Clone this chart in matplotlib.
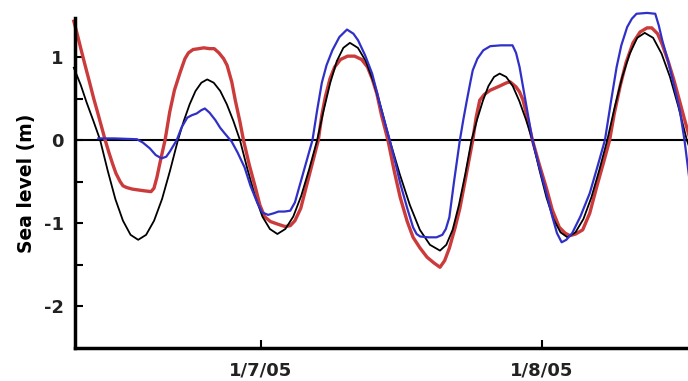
import matplotlib
matplotlib.use("Agg")
import matplotlib.pyplot as plt

# time in hours since 1/6/05 00:00, sea level in m
t_black = [8.0, 8.6, 9.1, 9.7, 10.25,
           10.9, 11.55, 12.2, 12.85, 13.5,
           14.18, 14.86, 15.54, 16.22, 16.9,
           17.4, 17.9, 18.4, 18.9, 19.4,
           19.96, 20.52, 21.08, 21.64, 22.2,
           22.84, 23.48, 24.12, 24.76, 25.4,
           26.08, 26.76, 27.44, 28.12, 28.8,
           29.36, 29.92, 30.48, 31.04, 31.6,
           32.28, 32.96, 33.64, 34.32, 35.0,
           35.86, 36.72, 37.58, 38.44, 39.3,
           39.84, 40.38, 40.92, 41.46, 42.0,
           42.48, 42.96, 43.44, 43.92, 44.4,
           44.96, 45.52, 46.08, 46.64, 47.2,
           47.8, 48.4, 49.0, 49.6, 50.2,
           50.88, 51.56, 52.24, 52.92, 53.6,
           54.24, 54.88, 55.52, 56.16, 56.8,
           57.52, 58.24, 58.96, 59.68, 60.4, 60.6]
h_black = [0.87, 0.66, 0.45, 0.22, 0.0,
           -0.37, -0.71, -0.97, -1.14, -1.2,
           -1.14, -0.97, -0.71, -0.37, 0.0,
           0.23, 0.43, 0.59, 0.69, 0.73,
           0.69, 0.59, 0.43, 0.23, 0.0,
           -0.35, -0.67, -0.92, -1.07, -1.13,
           -1.07, -0.92, -0.67, -0.35, 0.0,
           0.36, 0.69, 0.95, 1.11, 1.17,
           1.11, 0.95, 0.69, 0.36, 0.0,
           -0.41, -0.78, -1.08, -1.26, -1.33,
           -1.26, -1.08, -0.78, -0.41, 0.0,
           0.25, 0.47, 0.65, 0.76, 0.8,
           0.76, 0.65, 0.47, 0.25, 0.0,
           -0.36, -0.69, -0.95, -1.11, -1.17,
           -1.11, -0.95, -0.69, -0.36, 0.0,
           0.4, 0.76, 1.04, 1.23, 1.29,
           1.23, 1.04, 0.76, 0.4, 0.0, -0.08]

t_red = [8.0, 8.3, 8.6, 9.0, 9.3, 9.7, 10.0, 10.35, 10.68, 11.0, 11.3, 11.6,
         11.96, 12.2, 12.5, 13.0, 13.5, 14.0, 14.6, 14.85, 15.1, 15.4, 15.8,
         16.2, 16.6, 17.1, 17.5, 17.8, 18.2, 18.7, 19.1, 19.6, 20.0, 20.4,
         20.8, 21.1, 21.5, 21.8, 22.2, 22.5, 23.0, 23.5, 23.9, 24.3, 24.8,
         25.4, 26.05, 26.5, 26.9, 27.4, 27.8, 28.35, 28.9, 29.2, 29.5, 29.9,
         30.3, 30.8, 31.4, 32.0, 32.6, 33.1, 33.5, 33.9, 34.3, 34.85, 35.4,
         35.9, 36.5, 37.0, 37.6, 38.2, 38.8, 39.3, 39.7, 40.1, 40.6, 41.0,
         41.5, 42.1, 42.4, 42.7, 43.1, 43.6, 44.4, 45.0, 45.3, 45.8, 46.1,
         46.4, 46.8, 47.2, 47.8, 48.4, 48.9, 49.5, 50.0, 50.4, 50.9, 51.5,
         52.1, 52.7, 53.3, 53.8, 54.2, 54.7, 55.2, 55.8, 56.4, 57.0, 57.4,
         57.9, 58.3, 58.8, 59.3, 59.8, 60.2, 60.6]
h_red = [1.43, 1.27, 1.1, 0.88, 0.72, 0.5, 0.35, 0.17, 0.0, -0.15, -0.28, -0.4,
         -0.5, -0.55, -0.57, -0.59, -0.6, -0.61, -0.62, -0.58, -0.45, -0.25, 0.0,
         0.34, 0.6, 0.82, 0.98, 1.05, 1.09, 1.1, 1.11, 1.1, 1.1, 1.05,
         0.98, 0.9, 0.7, 0.48, 0.22, 0.0, -0.3, -0.56, -0.78, -0.92, -0.98,
         -1.01, -1.04, -1.03, -0.97, -0.82, -0.6, -0.3, 0.0, 0.3, 0.52, 0.74,
         0.88, 0.97, 1.01, 1.01, 0.97, 0.88, 0.74, 0.56, 0.3, 0.0, -0.38,
         -0.69, -0.98, -1.17, -1.3, -1.41, -1.48, -1.53, -1.45, -1.3, -1.05, -0.82,
         -0.45, 0.0, 0.28, 0.48, 0.55, 0.6, 0.65, 0.69, 0.7, 0.64, 0.58,
         0.48, 0.25, 0.0, -0.3, -0.58, -0.84, -1.05, -1.12, -1.15, -1.13, -1.08,
         -0.88, -0.56, -0.26, 0.0, 0.32, 0.65, 0.93, 1.17, 1.3, 1.35, 1.35,
         1.28, 1.15, 0.95, 0.72, 0.46, 0.25, 0.05]

t_blue = [10.1, 11.5, 13.4, 13.9, 14.5, 15.0, 15.5, 15.9, 16.2, 16.5, 16.8,
          17.2, 17.7, 18.1, 18.5, 18.9, 19.2, 19.6, 20.1, 20.5, 20.9, 21.2,
          21.5, 22.0, 22.6, 23.1, 23.7, 24.1, 24.6, 25.1, 25.5, 26.0, 26.5,
          26.9, 27.2, 27.8, 28.4, 28.8, 29.2, 29.6, 30.1, 30.7, 31.35, 31.9,
          32.3, 32.9, 33.5, 33.9, 34.3, 34.7, 35.0, 35.5, 35.9, 36.5, 37.0,
          37.3, 37.6, 38.3, 39.0, 39.5, 39.8, 40.1, 40.5, 41.0, 41.3, 41.6,
          41.9, 42.1, 42.5, 43.0, 43.6, 44.5, 45.5, 45.8, 46.1, 46.4, 46.8,
          47.2, 47.8, 48.4, 48.9, 49.3, 49.7, 50.1, 50.6, 51.3, 52.1, 52.8,
          53.4, 53.9, 54.4, 54.8, 55.3, 55.7, 56.1, 57.0, 57.7, 58.0, 58.3,
          58.8, 59.3, 59.8, 60.2, 60.6]
h_blue = [0.02, 0.02, 0.01, -0.03, -0.1, -0.18, -0.22, -0.2, -0.14, -0.07, 0.0,
          0.15, 0.27, 0.3, 0.32, 0.36, 0.38, 0.33, 0.24, 0.15, 0.08, 0.03,
          -0.02, -0.15, -0.33, -0.55, -0.76, -0.87, -0.9, -0.88, -0.86, -0.86, -0.85,
          -0.75, -0.6, -0.3, 0.0, 0.36, 0.69, 0.9, 1.08, 1.24, 1.33, 1.28,
          1.2, 1.02, 0.8, 0.58, 0.36, 0.15, 0.0, -0.28, -0.52, -0.82, -1.05,
          -1.13, -1.16, -1.17, -1.17, -1.14, -1.07, -0.93, -0.5, 0.0, 0.25, 0.48,
          0.7, 0.84, 0.98, 1.08, 1.13, 1.14, 1.14, 1.05, 0.88, 0.64, 0.32,
          0.0, -0.33, -0.64, -0.92, -1.12, -1.23, -1.2, -1.12, -0.92, -0.64, -0.3,
          0.0, 0.45, 0.88, 1.14, 1.36, 1.46, 1.52, 1.53, 1.52, 1.38, 1.2,
          0.95, 0.66, 0.36, 0.0, -0.45]

tick_pos = [24, 48]
tick_labels = ["1/7/05", "1/8/05"]

fig = plt.figure(figsize=(6.88, 3.81), dpi=100)
ax = fig.add_axes([0.109, 0.087, 0.891, 0.866])

ax.axhline(0, color="black", lw=1.5, zorder=1)
ax.plot(t_black, h_black, color="black", lw=1.3, zorder=3, clip_on=False)
ax.plot(t_red, h_red, color="#cc3b3b", lw=2.4, zorder=2, clip_on=False)
ax.plot(t_blue, h_blue, color="#3030c8", lw=1.6, zorder=4, clip_on=False)

ax.set_xlim(8.1, 60.5)
ax.set_ylim(-2.5, 1.47)
ax.set_yticks([-2, -1, 0, 1])
ax.set_yticks([-1.5, -0.5, 0.5], minor=True)
ax.set_yticklabels(["-2", "-1", "0", "1"])
ax.set_xticks(tick_pos)
ax.set_xticklabels(tick_labels)

for s in ["top", "right"]:
    ax.spines[s].set_visible(False)
for s in ["left", "bottom"]:
    ax.spines[s].set_linewidth(2.5)

ax.tick_params(axis="both", which="both", direction="in", length=6, width=1.5)
ax.tick_params(axis="y", pad=8)
ax.tick_params(axis="x", pad=10)
for lab in ax.get_xticklabels() + ax.get_yticklabels():
    lab.set_fontsize(13)
    lab.set_fontweight("semibold")
    lab.set_color("#222222")

ax.set_ylabel("Sea level (m)", fontsize=13.5, fontweight="bold", labelpad=6)

fig.savefig("out.png", dpi=100)
